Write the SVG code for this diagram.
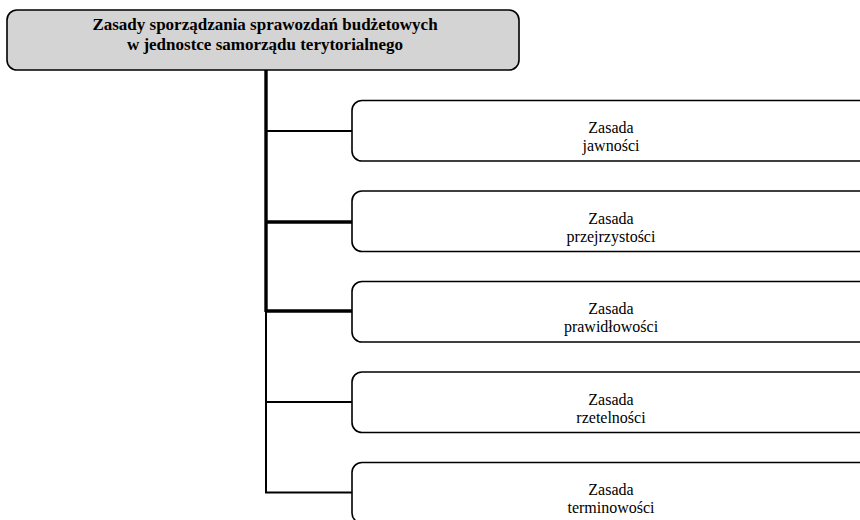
<svg xmlns="http://www.w3.org/2000/svg" width="860" height="520" viewBox="0 0 860 520">
<style>
.box{fill:#ffffff;stroke:#000;stroke-width:1.6}
.main{fill:#d4d4d4;stroke:#000;stroke-width:1.6}
.t{font-family:"Liberation Serif","Times New Roman",serif;font-size:16px;fill:#000;text-anchor:middle}
.tb{font-family:"Liberation Serif","Times New Roman",serif;font-size:17px;font-weight:bold;fill:#000;text-anchor:middle}
.thick{stroke:#000;stroke-width:3.4;fill:none}
.thin{stroke:#000;stroke-width:2;fill:none}
</style>
<rect width="860" height="520" fill="#fff"/>
<g id="connectors">
<line class="thick" x1="266" y1="70" x2="266" y2="312"/>
<line class="thin" x1="266" y1="311" x2="266" y2="493"/>
<line class="thin" x1="265" y1="131" x2="352" y2="131"/>
<line class="thick" x1="266" y1="222" x2="352" y2="222"/>
<line class="thick" x1="266" y1="311" x2="352" y2="311"/>
<line class="thin" x1="265" y1="402" x2="352" y2="402"/>
<line class="thin" x1="265" y1="492.5" x2="352" y2="492.5"/>
</g>
<g id="root">
<rect class="main" x="7" y="10" width="512" height="60" rx="10"/>
<text class="tb" x="265" y="30">Zasady sporządzania sprawozdań budżetowych</text>
<text class="tb" x="265" y="50">w jednostce samorządu terytorialnego</text>
</g>
<g id="n1">
<rect class="box" x="352" y="100.5" width="520" height="60.5" rx="10"/>
<text class="t" x="611" y="133">Zasada</text>
<text class="t" x="611" y="151">jawności</text>
</g>
<g id="n2">
<rect class="box" x="352" y="191" width="520" height="60.5" rx="10"/>
<text class="t" x="611" y="224">Zasada</text>
<text class="t" x="611" y="242">przejrzystości</text>
</g>
<g id="n3">
<rect class="box" x="352" y="281.5" width="520" height="60.5" rx="10"/>
<text class="t" x="611" y="314">Zasada</text>
<text class="t" x="611" y="332">prawidłowości</text>
</g>
<g id="n4">
<rect class="box" x="352" y="372" width="520" height="60.5" rx="10"/>
<text class="t" x="611" y="405">Zasada</text>
<text class="t" x="611" y="423">rzetelności</text>
</g>
<g id="n5">
<rect class="box" x="352" y="462.5" width="520" height="60.5" rx="10"/>
<text class="t" x="611" y="495">Zasada</text>
<text class="t" x="611" y="513">terminowości</text>
</g>
</svg>
